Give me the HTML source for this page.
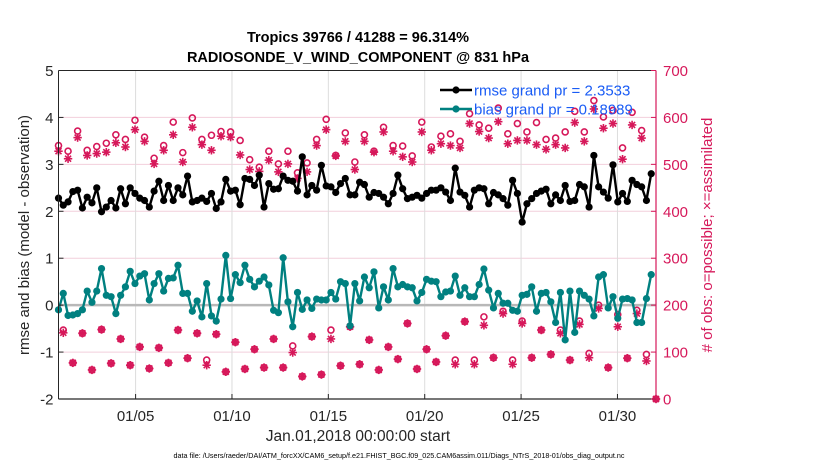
<!DOCTYPE html>
<html><head><meta charset="utf-8"><style>
html,body{margin:0;padding:0;background:#fff;}
svg{display:block;font-family:"Liberation Sans",sans-serif;}
</style></head><body>
<svg id="chart" width="830" height="470" viewBox="0 0 830 470" xmlns="http://www.w3.org/2000/svg">
<rect x="0" y="0" width="830" height="470" fill="#fff"/>
<text x="358" y="42" text-anchor="middle" font-size="14.5" font-weight="bold" fill="#000">Tropics 39766 / 41288 = 96.314%</text>
<text x="358" y="62" text-anchor="middle" font-size="14.5" font-weight="bold" fill="#000">RADIOSONDE_V_WIND_COMPONENT @ 831 hPa</text>
<g id="grid"></g>
<g id="series"></g>
<g id="axes"></g>
<text transform="translate(29,235) rotate(-90)" text-anchor="middle" font-size="15" fill="#262626">rmse and bias (model - observation)</text>
<text transform="translate(712,235) rotate(-90)" text-anchor="middle" font-size="15" fill="#d6185a"># of obs: o=possible; ×=assimilated</text>
<text x="358" y="441" text-anchor="middle" font-size="15.5" fill="#262626">Jan.01,2018 00:00:00 start</text>
<text x="399" y="458" text-anchor="middle" font-size="7.2" fill="#000">data file: /Users/raeder/DAI/ATM_forcXX/CAM6_setup/f.e21.FHIST_BGC.f09_025.CAM6assim.011/Diags_NTrS_2018-01/obs_diag_output.nc</text>
<g id="legend"></g>
</svg>
<script>
const rmse = [2.28,2.13,2.2,2.42,2.45,2.07,2.3,2.18,2.5,1.99,
2.09,2.23,2.07,2.48,2.16,2.5,2.38,2.28,2.23,2.09,2.43,2.64,2.23,2.55,2.23,2.5,2.35,2.75,2.2,2.23,2.28,2.21,2.38,2.06,2.2,2.68,2.43,2.45,2.14,2.7,
2.68,2.55,2.77,2.09,2.59,2.47,2.48,2.75,2.66,2.64,2.43,3.16,2.35,2.55,2.45,2.98,2.54,2.52,2.4,2.59,2.7,2.35,2.35,2.62,2.57,2.3,2.4,2.38,2.3,
2.16,2.38,2.77,2.48,2.27,2.3,2.34,2.28,2.38,2.45,2.45,2.5,2.41,2.23,2.92,2.41,2.34,2.09,2.45,2.5,2.48,2.16,2.4,2.35,2.27,2.13,2.66,2.38,1.77,
2.16,2.27,2.38,2.43,2.47,2.16,2.35,2.23,2.55,2.21,2.23,2.57,2.52,2.09,3.19,2.52,2.41,2.28,2.99,2.2,2.38,2.21,2.66,2.57,2.52,2.23,2.8];
const bias = [-0.1,0.25,-0.22,-0.21,-0.18,-0.1,0.3,0.06,0.3,0.78,
0.21,0.18,-0.18,0.21,0.39,0.72,0.46,0.62,0.67,0.11,0.46,0.67,0.3,0.57,0.58,0.85,0.25,0.25,-0.13,0.09,-0.25,0.46,-0.23,-0.34,0.13,1.06,0.14,0.65,0.48,0.85,
0.55,0.39,0.51,0.6,0.43,-0.11,-0.16,1.01,0.07,-0.46,0.27,-0.09,0.11,-0.07,0.13,0.11,0.11,0.27,0.13,0.5,0.46,-0.44,0.46,0.09,0.6,0.37,0.71,-0.06,0.39,
0.11,0.78,0.39,0.44,0.39,0.37,0.09,0.27,0.55,0.51,0.5,0.18,0.28,0.3,0.62,0.21,0.37,0.18,0.18,0.44,0.77,0.32,-0.06,0.25,0.04,0.04,-0.11,-0.13,0.21,
0.23,0.39,-0.13,0.25,0.27,0.07,-0.37,0.27,-0.74,0.3,-0.58,0.3,0.21,0.13,-0.23,0.6,0.65,-0.06,0.18,-0.28,0.13,0.14,0.11,-0.37,-0.37,0.14,0.65];
const possible = [540,147,528,77,571,140,530,62,538,148,
545,76,563,128,553,72,594,111,558,65,513,109,540,77,590,147,525,87,599,140,553,83,562,138,570,58,569,121,551,64,
510,106,494,67,528,128,501,67,528,113,482,48,503,133,553,52,596,147,519,71,567,154,505,74,563,126,528,62,579,111,
540,85,539,161,518,64,590,106,537,79,560,135,565,83,549,165,608,83,584,175,577,88,620,187,565,83,587,166,
569,88,589,147,553,95,556,147,569,83,613,166,569,97,636,200,601,67,615,180,535,87,611,189,572,95,null,0];
const assimilated = [528,141,512,77,557,140,519,62,523,148,
526,76,546,128,537,72,574,111,549,65,501,109,530,77,563,147,505,87,579,140,542,72,530,138,560,58,558,121,520,64,
489,106,485,67,509,128,484,67,501,99,470,48,484,133,540,52,574,128,518,71,549,154,489,74,549,126,526,62,569,111,
528,85,516,161,505,64,569,106,530,79,544,135,540,74,535,165,587,74,570,157,556,88,591,182,544,74,551,161,
551,88,542,147,532,95,542,140,535,83,589,159,549,88,618,193,577,67,587,154,511,87,584,182,556,81,null,0];
const xTickDays = [5,10,15,20,25,30];
const xTickLabels = ["01/05","01/10","01/15","01/20","01/25","01/30"];
const leftTicks = [-2,-1,0,1,2,3,4,5];
const rightTicks = [0,100,200,300,400,500,600,700];
const startDay = 1.0, stepDay = 0.248;

const NS = "http://www.w3.org/2000/svg";
const PL = 58.5, PR = 656, PT = 70.5, PB = 399;
const xDom = [1, 32];
function xS(d){ return PL + (d - xDom[0]) / (xDom[1] - xDom[0]) * (PR - PL); }
function yL(v){ return PB - (v + 2) / 7 * (PB - PT); }
function yR(c){ return PB - c / 700 * (PB - PT); }
function tAt(i){ return startDay + i * stepDay; }
function mk(tag, attrs, parent){
  const e = document.createElementNS(NS, tag);
  for (const k in attrs) e.setAttribute(k, attrs[k]);
  parent.appendChild(e);
  return e;
}
const gridG = document.getElementById('grid');
const seriesG = document.getElementById('series');
const axesG = document.getElementById('axes');
const legendG = document.getElementById('legend');

rightTicks.forEach(c => {
  if (c === 0 || c === 700) return;
  const g = mk('line', {x1:PL, x2:PR, y1:yR(c), y2:yR(c), stroke:'#f2cfdc', 'stroke-width':1}, gridG);
  
  
});
xTickDays.forEach(d => {
  const g = mk('line', {x1:xS(d), x2:xS(d), y1:PT, y2:PB, stroke:'#dcdcdc', 'stroke-width':1}, gridG);
  
  
});
const zeroLine = mk('line', {x1:PL, x2:PR, y1:yL(0), y2:yL(0), stroke:'#b8b8b8', 'stroke-width':2.5}, gridG);



function asterisk(x, y, parent){
  const s = 4.2, d = 3;
  const g = mk('g', {stroke:'#d6185a', 'stroke-width':1.6}, parent);
  
  
  mk('line', {x1:x-s, x2:x+s, y1:y, y2:y}, g);
  mk('line', {x1:x, x2:x, y1:y-s, y2:y+s}, g);
  mk('line', {x1:x-d, x2:x+d, y1:y-d, y2:y+d}, g);
  mk('line', {x1:x-d, x2:x+d, y1:y+d, y2:y-d}, g);
}
assimilated.forEach((c, i) => {
  if (c === null) return;
  asterisk(xS(tAt(i)), yR(c), seriesG);
});
possible.forEach((c, i) => {
  if (c === null) return;
  const o = mk('circle', {cx:xS(tAt(i)), cy:yR(c), r:3, fill:'none', stroke:'#d6185a', 'stroke-width':1.6}, seriesG);
  
  
});

function drawLine(vals, color, name){
  const pts = vals.map((v, i) => xS(tAt(i)).toFixed(1) + ',' + yL(v).toFixed(1)).join(' ');
  const pl = mk('polyline', {points:pts, fill:'none', stroke:color, 'stroke-width':2.4, 'stroke-linejoin':'round'}, seriesG);
  
  
  vals.forEach((v, i) => {
    const c = mk('circle', {cx:xS(tAt(i)), cy:yL(v), r:3.6, fill:color}, seriesG);
    
    
  });
}
drawLine(bias, '#008080', 'bias');
drawLine(rmse, '#000000', 'rmse');

const topFrame = mk('line', {x1:PL, x2:PR, y1:PT, y2:PT, stroke:'#262626', 'stroke-width':1}, axesG);


const leftAxis = mk('line', {x1:PL, x2:PL, y1:PT, y2:PB, stroke:'#262626', 'stroke-width':1}, axesG);


const bottomAxis = mk('line', {x1:PL, x2:PR, y1:PB, y2:PB, stroke:'#262626', 'stroke-width':1.2}, axesG);


const rightAxis = mk('line', {x1:PR, x2:PR, y1:PT, y2:PB, stroke:'#d6185a', 'stroke-width':1.2}, axesG);



leftTicks.forEach(v => {
  const tk = mk('line', {x1:PL, x2:PL+5, y1:yL(v), y2:yL(v), stroke:'#262626'}, axesG);
  
  
  const t = mk('text', {x:PL-5, y:yL(v)+5.5, 'text-anchor':'end', 'font-size':15, fill:'#262626'}, axesG);
  
  
  t.textContent = v;
});
rightTicks.forEach(c => {
  const tk = mk('line', {x1:PR-5, x2:PR, y1:yR(c), y2:yR(c), stroke:'#d6185a'}, axesG);
  
  
  const t = mk('text', {x:PR+7, y:yR(c)+5.5, 'font-size':15, fill:'#d6185a'}, axesG);
  
  
  t.textContent = c;
});
xTickDays.forEach((d, i) => {
  const tk = mk('line', {x1:xS(d), x2:xS(d), y1:PB-5, y2:PB, stroke:'#262626'}, axesG);
  
  
  const t = mk('text', {x:xS(d), y:421, 'text-anchor':'middle', 'font-size':15, fill:'#262626'}, axesG);
  
  
  t.textContent = xTickLabels[i];
});

const legendItems = [["rmse grand pr = 2.3533", "#000000", 90],["bias grand pr = 0.18989", "#008080", 109]];
legendItems.forEach(it => {
  const ln = mk('line', {x1:440, x2:472, y1:it[2], y2:it[2], stroke:it[1], 'stroke-width':2.4}, legendG);
  
  
  const dot = mk('circle', {cx:456, cy:it[2], r:3.6, fill:it[1]}, legendG);
  
  
  const t = mk('text', {x:474, y:it[2]+5.5, 'font-size':15, fill:'#1a5cf5'}, legendG);
  
  
  t.textContent = it[0];
});
</script>
</body></html>
